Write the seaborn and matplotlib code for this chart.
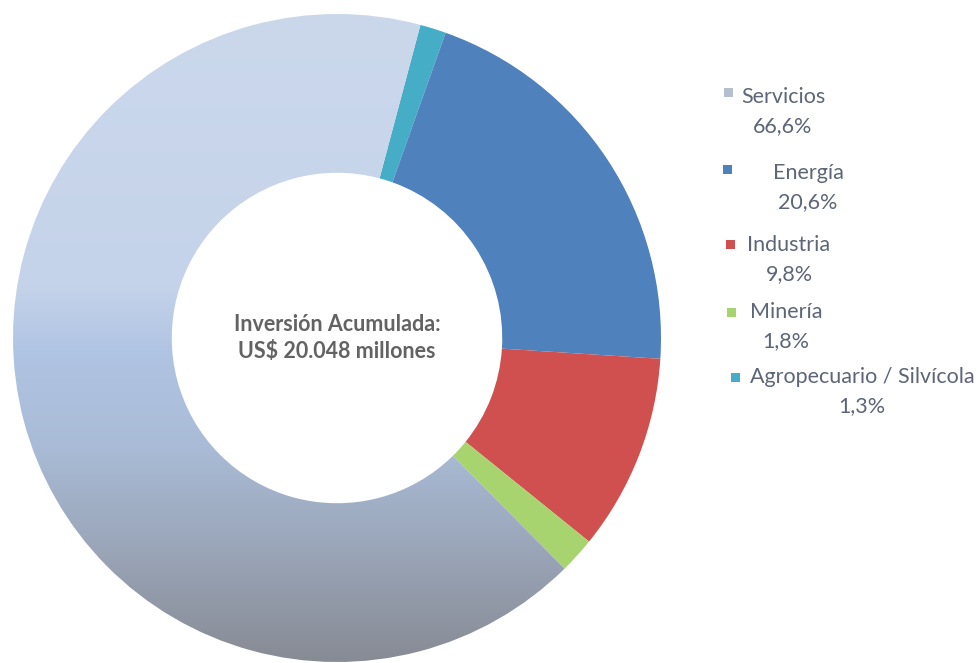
import numpy as np
import matplotlib
matplotlib.use('Agg')
import matplotlib.pyplot as plt
import seaborn as sns
from matplotlib.colors import LinearSegmentedColormap
from matplotlib.patches import Rectangle

# Datos (participación en la inversión acumulada)
sectores = ['Servicios', 'Energía', 'Industria', 'Minería', 'Agropecuario / Silvícola']
porcentajes = [66.6, 20.6, 9.8, 1.8, 1.3]
etiquetas_pct = ['66,6%', '20,6%', '9,8%', '1,8%', '1,3%']
colores = ['#b5bfcf', '#4f81bd', '#cf504e', '#a8d46f', '#45aec6']
titulo_centro = 'Inversión Acumulada:\nUS$ 20.048 millones'

# orden de las porciones alrededor del anillo (sentido horario desde Servicios)
orden_anillo = [0, 4, 1, 2, 3]

sns.set_theme(style='white')
plt.rcParams['font.family'] = ['Lato', 'DejaVu Sans']

W, H = 977, 663
fig = plt.figure(figsize=(W / 100, H / 100), dpi=100)
ax = fig.add_axes([13 / W, 1 / H, 648 / W, 648 / H])

vals = [porcentajes[i] for i in orden_anillo]
cols = [colores[i] for i in orden_anillo]
wedges, _ = ax.pie(vals, colors=cols, startangle=-45.4, counterclock=False,
                   radius=1, wedgeprops=dict(width=0.49, linewidth=0))

# Servicios con degradado vertical (celeste arriba, gris abajo)
grad = LinearSegmentedColormap.from_list(
    'serv', [(0, '#cbd8ec'), (0.42, '#c5d3ea'), (0.52, '#b0c4e3'),
             (0.67, '#a9bbd6'), (0.85, '#98a2b4'), (1, '#878b94')])
img = ax.imshow(np.linspace(0, 1, 256).reshape(-1, 1), cmap=grad, aspect='auto',
                extent=(-1, 1, -1, 1), origin='upper', zorder=2)
img.set_clip_path(wedges[0])
wedges[0].set_facecolor('none')

ax.set_xlim(-1, 1)
ax.set_ylim(-1, 1)
ax.set_aspect('equal')
ax.axis('off')

ax.text(0, 0, titulo_centro, ha='center', va='center', fontsize=15.5,
        fontweight='bold', color='#636363', linespacing=1.38)

# Leyenda (marcador cuadrado + nombre y porcentaje centrados)
marca_x = [728, 727, 730, 731, 735]
marca_y = [92, 170, 244, 312, 378]
texto_x = [783, 808, 789, 786, 862]
linea_y = [97, 173, 245, 312, 377]
for i, nombre in enumerate(sectores):
    mx, my, ty = marca_x[i], marca_y[i], linea_y[i]
    fig.add_artist(Rectangle(((mx - 4.5) / W, 1 - (my + 4.5) / H), 9 / W, 9 / H,
                             transform=fig.transFigure, color=colores[i], lw=0))
    fig.text(texto_x[i] / W, 1 - ty / H, nombre, ha='center', va='center',
             fontsize=15.5, color='#5c6678')
    fig.text(texto_x[i] / W, 1 - (ty + 29) / H, etiquetas_pct[i], ha='center',
             va='center', fontsize=15.5, color='#5c6678')

fig.savefig('out.png', dpi=100)
